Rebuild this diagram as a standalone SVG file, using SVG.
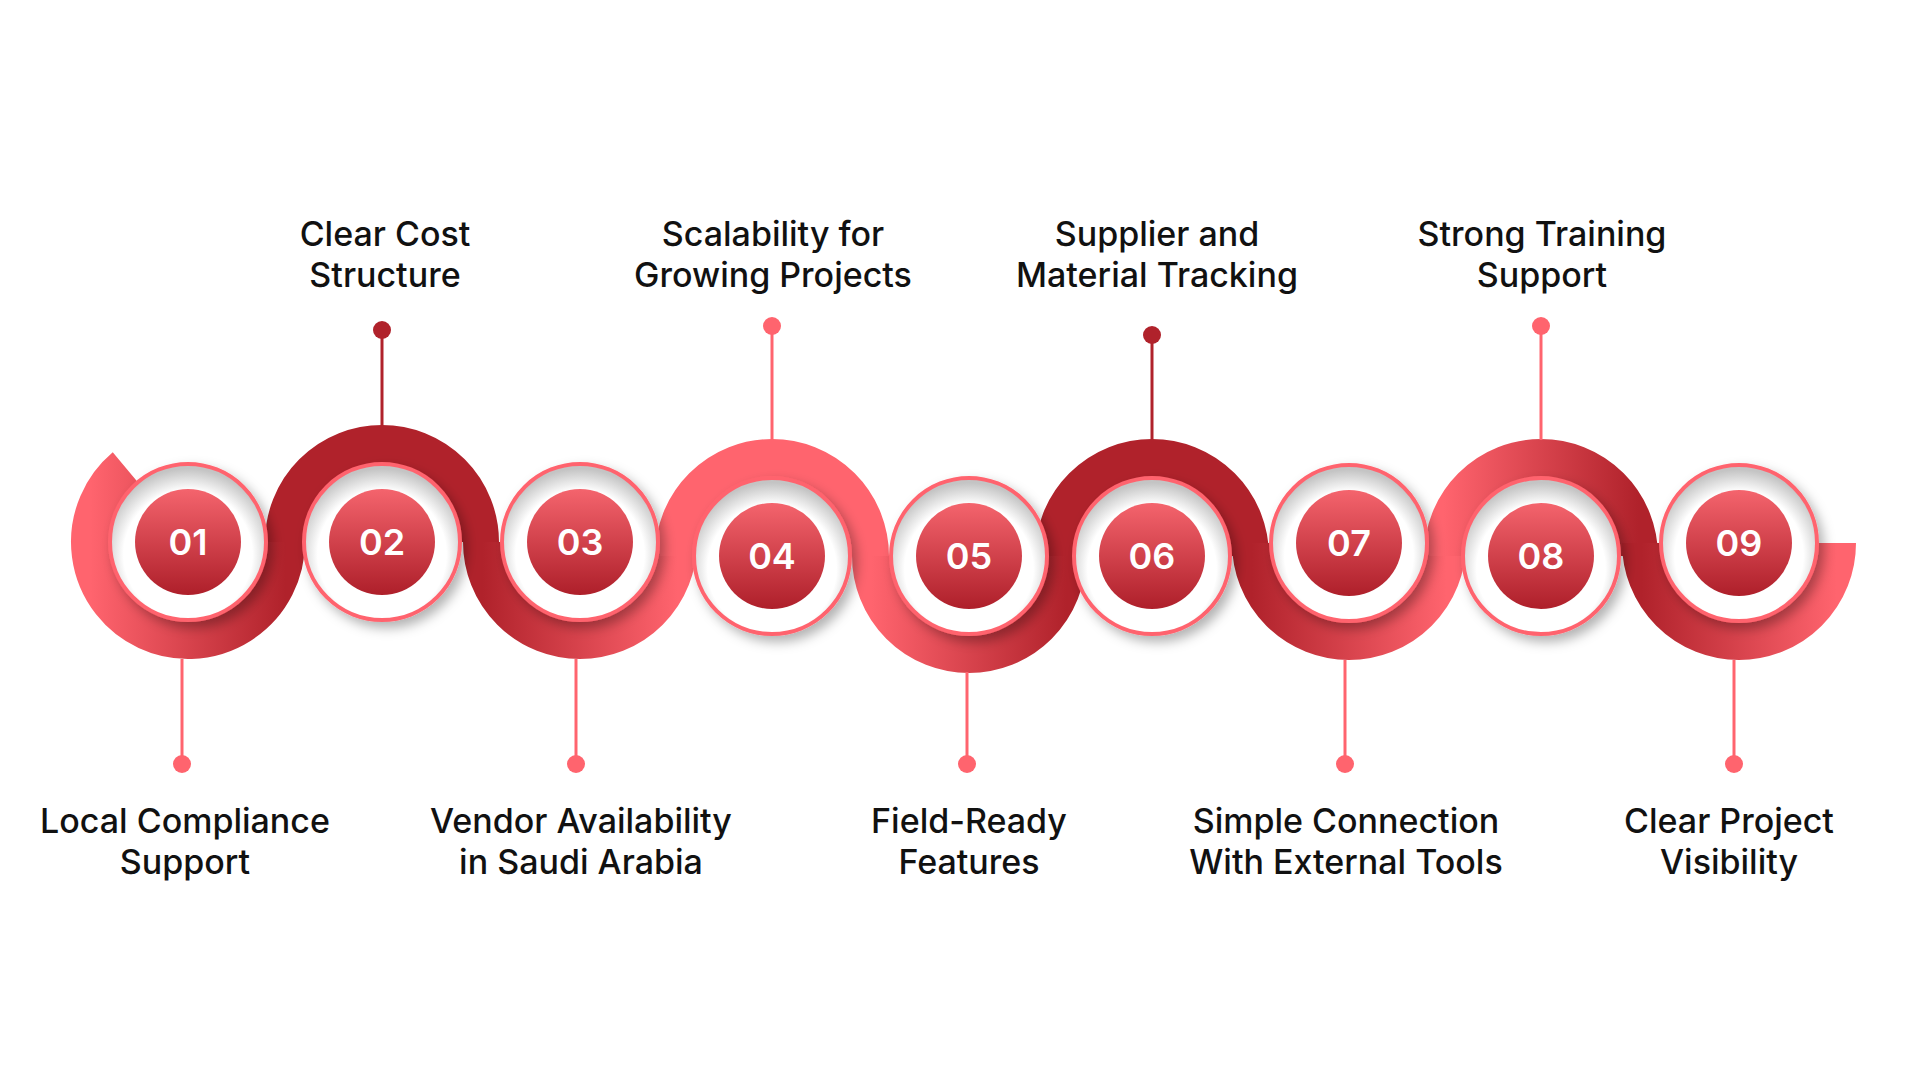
<svg xmlns="http://www.w3.org/2000/svg" width="1920" height="1080" viewBox="0 0 1920 1080">
<defs>
<linearGradient id="pd" x1="0" y1="0" x2="1" y2="0"><stop offset="0" stop-color="#FF646E"/><stop offset="1" stop-color="#B0222B"/></linearGradient>
<linearGradient id="dp" x1="0" y1="0" x2="1" y2="0"><stop offset="0" stop-color="#B0222B"/><stop offset="1" stop-color="#FF646E"/></linearGradient>
<linearGradient id="red" x1="0" y1="0" x2="0" y2="1"><stop offset="0" stop-color="#F4646D"/><stop offset="1" stop-color="#AE1F2A"/></linearGradient>
<radialGradient id="wh" cx="0.5" cy="0.58" r="0.55"><stop offset="0.75" stop-color="#FFFFFF"/><stop offset="1" stop-color="#C4C4C4"/></radialGradient>
<filter id="sh" x="-30%" y="-30%" width="160%" height="160%"><feDropShadow dx="5" dy="6" stdDeviation="6" flood-color="#000" flood-opacity="0.3"/></filter>
</defs>
<style>
.band{fill:none;stroke-width:39}
.ln{stroke-width:3}
.lab{font-family:Inter,"Liberation Sans",sans-serif;font-size:34px;font-weight:500;fill:#111;text-anchor:middle}
.num{font-family:Inter,"Liberation Sans",sans-serif;font-size:36px;font-weight:600;fill:#fff;text-anchor:middle}
.outer{fill:url(#wh);stroke:#FF646E;stroke-width:4;filter:url(#sh)}
.inner{fill:url(#red)}
</style>
<rect width="1920" height="1080" fill="#fff"/>
<g id="connectors">
<path class="band" stroke="url(#pd)" d="M285.5,542 A97.5,97.5 0 1 1 125.3,467.3"/>
<path class="band" stroke="#B0222B" d="M284.5,542 A97.5,97.5 0 0 1 479.5,542"/>
<path class="band" stroke="url(#dp)" d="M482.5,542 A97.5,97.5 0 0 0 677.5,542"/>
<path class="band" stroke="#FF646E" d="M674.5,556 A97.5,97.5 0 0 1 869.5,556"/>
<path class="band" stroke="url(#pd)" d="M871.5,556 A97.5,97.5 0 0 0 1066.5,556"/>
<path class="band" stroke="#B0222B" d="M1054.5,556 A97.5,97.5 0 0 1 1249.5,556"/>
<path class="band" stroke="url(#dp)" d="M1251.5,543 A97.5,97.5 0 0 0 1446.5,543"/>
<path class="band" stroke="url(#pd)" d="M1443.5,556 A97.5,97.5 0 0 1 1638.5,556"/>
<path class="band" stroke="url(#dp)" d="M1641.5,543 A97.5,97.5 0 0 0 1836.5,543"/>
<line class="ln" stroke="#B0222B" x1="382" y1="426" x2="382" y2="330"/><circle cx="382" cy="330" r="9" fill="#B0222B"/>
<line class="ln" stroke="#FF646E" x1="772" y1="440" x2="772" y2="326"/><circle cx="772" cy="326" r="9" fill="#FF646E"/>
<line class="ln" stroke="#B0222B" x1="1152" y1="440" x2="1152" y2="335"/><circle cx="1152" cy="335" r="9" fill="#B0222B"/>
<line class="ln" stroke="#FF646E" x1="1541" y1="440" x2="1541" y2="326"/><circle cx="1541" cy="326" r="9" fill="#FF646E"/>
<line class="ln" stroke="#FF646E" x1="182" y1="659" x2="182" y2="764"/><circle cx="182" cy="764" r="9" fill="#FF646E"/>
<line class="ln" stroke="#FF646E" x1="576" y1="659" x2="576" y2="764"/><circle cx="576" cy="764" r="9" fill="#FF646E"/>
<line class="ln" stroke="#FF646E" x1="967" y1="672" x2="967" y2="764"/><circle cx="967" cy="764" r="9" fill="#FF646E"/>
<line class="ln" stroke="#FF646E" x1="1345" y1="660" x2="1345" y2="764"/><circle cx="1345" cy="764" r="9" fill="#FF646E"/>
<line class="ln" stroke="#FF646E" x1="1734" y1="660" x2="1734" y2="764"/><circle cx="1734" cy="764" r="9" fill="#FF646E"/>
</g>
<g id="n1"><circle class="outer" cx="188" cy="542" r="78"/><circle class="inner" cx="188" cy="542" r="53"/><text class="num" x="188" y="555">01</text><text class="lab" x="185" y="833">Local Compliance</text><text class="lab" x="185" y="874">Support</text></g>
<g id="n2"><circle class="outer" cx="382" cy="542" r="78"/><circle class="inner" cx="382" cy="542" r="53"/><text class="num" x="382" y="555">02</text><text class="lab" x="385" y="246">Clear Cost</text><text class="lab" x="385" y="287">Structure</text></g>
<g id="n3"><circle class="outer" cx="580" cy="542" r="78"/><circle class="inner" cx="580" cy="542" r="53"/><text class="num" x="580" y="555">03</text><text class="lab" x="581" y="833">Vendor Availability</text><text class="lab" x="581" y="874">in Saudi Arabia</text></g>
<g id="n4"><circle class="outer" cx="772" cy="556" r="78"/><circle class="inner" cx="772" cy="556" r="53"/><text class="num" x="772" y="569">04</text><text class="lab" x="773" y="246">Scalability for</text><text class="lab" x="773" y="287">Growing Projects</text></g>
<g id="n5"><circle class="outer" cx="969" cy="556" r="78"/><circle class="inner" cx="969" cy="556" r="53"/><text class="num" x="969" y="569">05</text><text class="lab" x="969" y="833">Field-Ready</text><text class="lab" x="969" y="874">Features</text></g>
<g id="n6"><circle class="outer" cx="1152" cy="556" r="78"/><circle class="inner" cx="1152" cy="556" r="53"/><text class="num" x="1152" y="569">06</text><text class="lab" x="1157" y="246">Supplier and</text><text class="lab" x="1157" y="287">Material Tracking</text></g>
<g id="n7"><circle class="outer" cx="1349" cy="543" r="78"/><circle class="inner" cx="1349" cy="543" r="53"/><text class="num" x="1349" y="556">07</text><text class="lab" x="1346" y="833">Simple Connection</text><text class="lab" x="1346" y="874">With External Tools</text></g>
<g id="n8"><circle class="outer" cx="1541" cy="556" r="78"/><circle class="inner" cx="1541" cy="556" r="53"/><text class="num" x="1541" y="569">08</text><text class="lab" x="1542" y="246">Strong Training</text><text class="lab" x="1542" y="287">Support</text></g>
<g id="n9"><circle class="outer" cx="1739" cy="543" r="78"/><circle class="inner" cx="1739" cy="543" r="53"/><text class="num" x="1739" y="556">09</text><text class="lab" x="1729" y="833">Clear Project</text><text class="lab" x="1729" y="874">Visibility</text></g>
</svg>
